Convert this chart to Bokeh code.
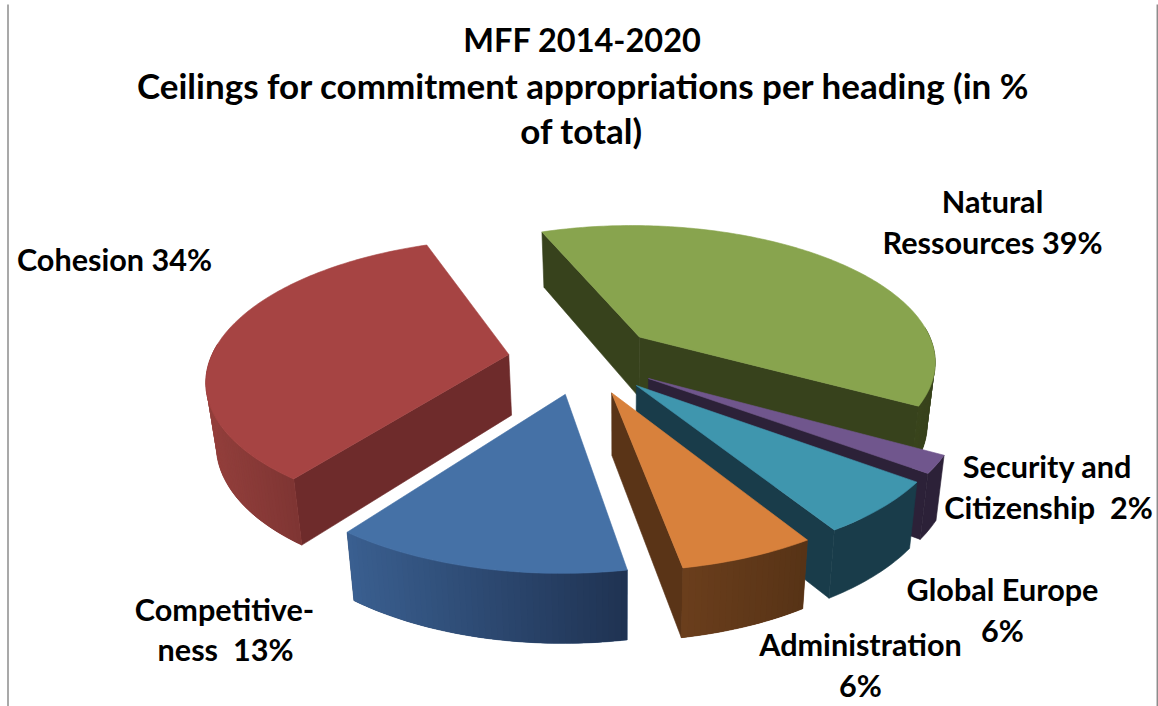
import numpy as np
from bokeh.plotting import figure
from bokeh.models import Range1d
from bokeh.core.properties import value
from bokeh.embed import file_html
from bokeh.resources import INLINE

# ---- data (clockwise from the first slice) ----
headings = ["Natural Ressources", "Security and Citizenship", "Global Europe",
            "Administration", "Competitiveness", "Cohesion"]
shares = [39, 2, 6, 6, 13, 34]
title_top = ["MFF 2014-2020"]
title_lines = ["Ceilings for commitment appropriations per heading (in %",
               "of total)"]
label_lines = ["Natural", "Ressources 39%", "Cohesion 34%", "Security and",
               "Citizenship \u00a02%", "Global Europe", "6%", "Administration", "6%",
               "Competitive-", "ness \u00a013%"]

# ---- styles ----
top_colors = ["#88A44E", "#70568D", "#3F96AE", "#D8813C", "#4571A6", "#A64443"]
wall_colors = ["#37421C", "#2C2138", "#193C4A", "#5A3417", "#1F3454", "#6E2B2B"]
curve_left = ["#39441C", "#2C2138", "#193C4A", "#6B3E1C", "#3A5F90", "#933F3C"]
curve_right = ["#37421C", "#2C2138", "#193C4A", "#573316", "#1F3352", "#7F3533"]
label_x = [992, 992, 114, 1047, 1048, 1002, 1002, 860, 860, 224, 225]
label_y = [201, 242, 259, 466, 507, 589, 630, 644, 685, 609, 649]
TITLE_PX, TOP_PX, LABEL_PX = 35, 32.5, 30.6
CX, CY, A, B, PERSP, EXPLODE, T0 = 582.97, 358.63, 298.33, 0.4577, 0.1643, 0.2542, -0.3651
DEPTH, X0, SHRINK = 61, 620, 0.975


def project(X, Y):
    X, Y = np.asarray(X, float), np.asarray(Y, float)
    s = 1 / (1 - PERSP * Y)
    return CX + A * X * s, CY + A * B * Y * s, DEPTH * s ** 0.6


def lower(x, y, d):
    return X0 + (x - X0) * SHRINK, y + d


def hex_mix(c1, c2, t):
    a = [int(c1[i:i + 2], 16) for i in (1, 3, 5)]
    b = [int(c2[i:i + 2], 16) for i in (1, 3, 5)]
    return "#%02x%02x%02x" % tuple(round(u + (v - u) * t) for u, v in zip(a, b))


p = figure(width=1158, height=706, x_range=Range1d(0, 1158), y_range=Range1d(706, 0),
           output_backend="svg", toolbar_location=None, min_border=0,
           outline_line_color=None)
p.axis.visible = False
p.grid.visible = False

# chart frame edges
p.segment([7.5, 1156.8], [4, 4], [7.5, 1156.8], [706, 706], line_color="#8C8C8C", line_width=1.5)

edges = np.concatenate([[0], np.cumsum(shares)]) / sum(shares) * 2 * np.pi + T0
for i in range(len(shares)):
    t1, t2 = edges[i], edges[i + 1]
    mid = (t1 + t2) / 2
    ax, ay = EXPLODE * np.sin(mid), -EXPLODE * np.cos(mid)
    th = np.linspace(t1, t2, max(4, int((t2 - t1) * 60)))
    wx, wy = ax + np.sin(th), ay - np.cos(th)
    x, y, d = project(wx, wy)
    lx, ly = lower(x, y, d)
    px, py, pd = project(ax, ay)
    plx, ply = lower(px, py, pd)

    # straight side walls that face the viewer
    for k, normal in ((0, t1 - np.pi / 2), (-1, t2 + np.pi / 2)):
        if -np.cos(normal) > 0:
            p.patch([float(px), x[k], lx[k], float(plx)], [float(py), y[k], ly[k], float(ply)],
                    fill_color=wall_colors[i], line_color=wall_colors[i], line_width=0.6)

    # curved outer wall: a base shape, then overlapping strips for the shading
    front = np.where(-np.cos(th) > -0.08)[0]
    if len(front) > 1:
        fx, fy, flx, fly = x[front], y[front], lx[front], ly[front]
        mean_c = hex_mix(curve_left[i], curve_right[i], 0.5)
        p.patch(np.r_[fx, flx[::-1]].tolist(), np.r_[fy, fly[::-1]].tolist(),
                fill_color=mean_c, line_color=mean_c, line_width=0.6)
        if curve_left[i] != curve_right[i]:
            xmin, xmax = fx.min(), fx.max()
            xs, ys, cs = [], [], []
            for k in range(len(fx) - 1):
                e = min(k + 2, len(fx) - 1)
                xs.append([fx[k], fx[e], flx[e], flx[k]])
                ys.append([fy[k], fy[e], fly[e], fly[k]])
                cs.append(hex_mix(curve_left[i], curve_right[i],
                                  ((fx[k] + fx[k + 1]) / 2 - xmin) / max(xmax - xmin, 1)))
            p.patches(xs, ys, fill_color=cs, line_color=None)

    # top face
    p.patch(np.r_[px, x].tolist(), np.r_[py, y].tolist(), fill_color=top_colors[i],
            line_color=top_colors[i], line_width=0.6)

p.text([582], [39], text=title_top, text_font=value("Lato"),
       text_font_style="bold", text_font_size=f"{TOP_PX}px", text_color="#000000",
       text_align="center", text_baseline="middle")
p.text([583, 581], [84, 129], text=title_lines, text_font=value("Lato"),
       text_font_style="bold", text_font_size=f"{TITLE_PX}px", text_color="#000000",
       text_align="center", text_baseline="middle")
p.text(label_x, label_y, text=label_lines, text_font=value("Lato"),
       text_font_style="bold", text_font_size=f"{LABEL_PX}px", text_color="#000000",
       text_align="center", text_baseline="middle")

open("out.html", "w").write(file_html(p, INLINE))
